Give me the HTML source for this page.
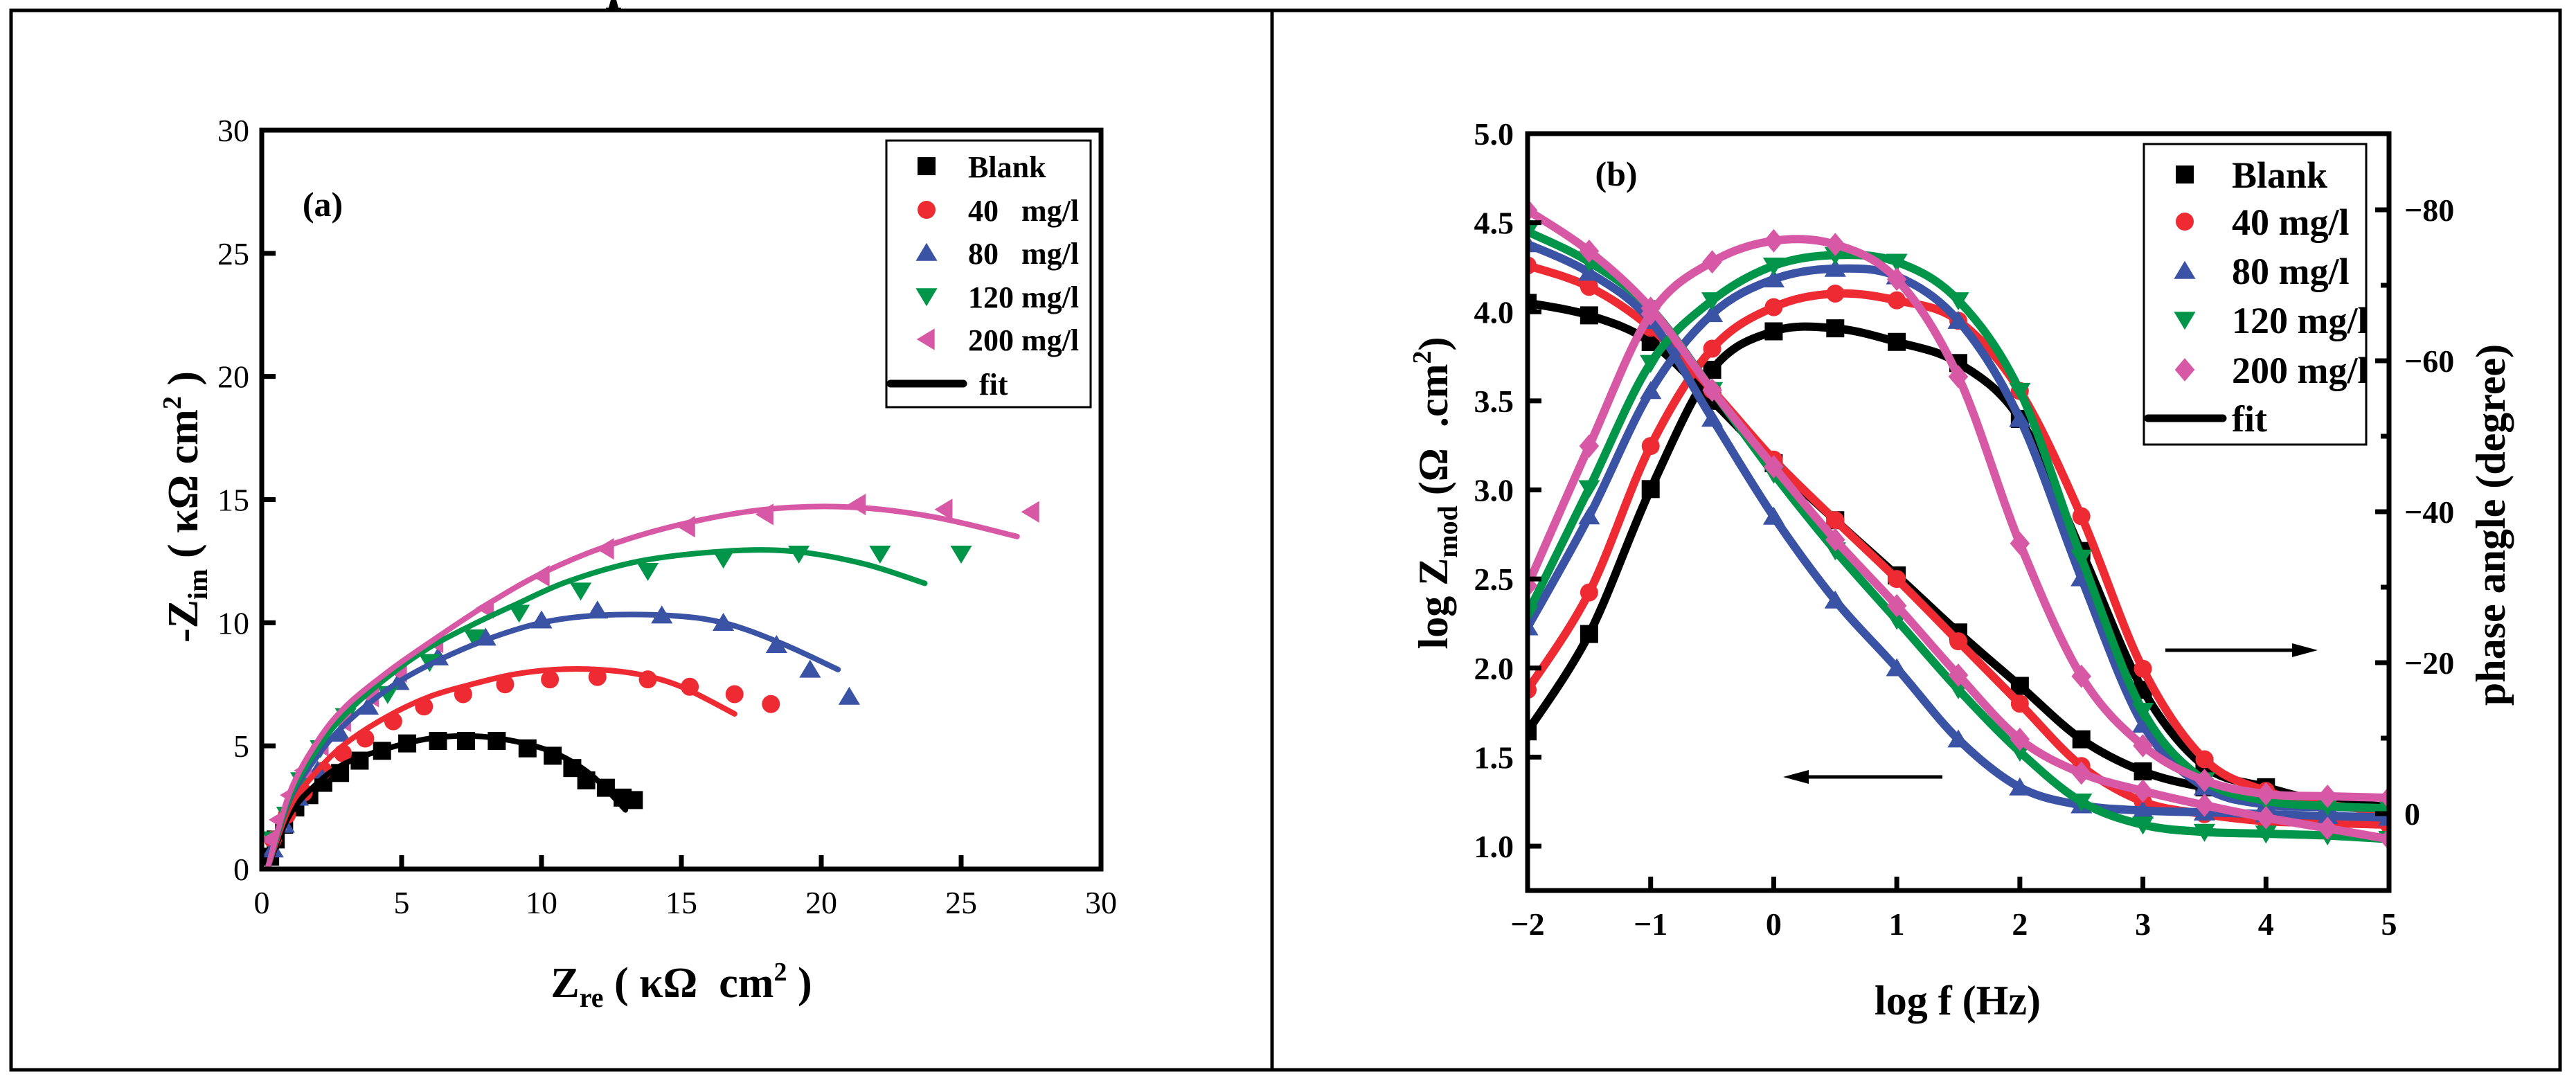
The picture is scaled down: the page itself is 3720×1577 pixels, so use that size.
<!DOCTYPE html>
<html><head><meta charset="utf-8">
<style>
html,body{margin:0;padding:0;background:#fff;}
svg{display:block;}
text{font-family:"Liberation Serif",serif;fill:#000;white-space:pre;}
</style></head>
<body>
<svg id="fig" width="3720" height="1577" viewBox="0 0 3720 1577" xmlns="http://www.w3.org/2000/svg">
<rect x="0" y="0" width="3720" height="1577" fill="#fff"/>
<g stroke="#000" stroke-width="5" fill="none">
<rect x="16" y="15" width="3681" height="1530"/>
<line x1="1837" y1="15" x2="1837" y2="1545"/>
</g>
<path d="M875 11 L879 11 L882 0 L890 0 L893 11 L897 11 L897 13 L875 13 Z" fill="#000"/>
<g id="panelA"></g>
<g id="panelB"></g>
</svg>
<script>
// ===== Panel (a) Nyquist data =====
const nyqSeries = ["Blank","40 mg/l","80 mg/l","120 mg/l","200 mg/l"];
const nyqColors = ["#000000","#ee2a33","#3a53a4","#009548","#d758a4"];
const blankZre = [0.3,0.5,0.8,1.2,1.7,2.2,2.8,3.5,4.3,5.2,6.3,7.3,8.4,9.5,10.4,11.1,11.6,12.3,12.9,13.3];
const blankZim = [0.5,1.2,1.8,2.5,3.0,3.5,3.9,4.4,4.8,5.1,5.2,5.2,5.2,4.9,4.6,4.1,3.6,3.3,2.9,2.8];
const c40Zre = [0.4,0.9,1.5,2.2,2.9,3.7,4.7,5.8,7.2,8.7,10.3,12.0,13.8,15.3,16.9,18.2];
const c40Zim = [1.2,2.2,3.1,4.0,4.7,5.3,6.0,6.6,7.1,7.5,7.7,7.8,7.7,7.4,7.1,6.7];
const c80Zre = [0.4,0.8,1.3,2.0,2.8,3.8,4.9,6.3,8.0,10.0,12.0,14.3,16.5,18.4,19.6,21.0];
const c80Zim = [0.8,1.8,2.9,4.0,5.5,6.6,7.6,8.6,9.4,10.1,10.5,10.3,10.0,9.1,8.1,7.0];
const c120Zre = [0.4,0.9,1.4,2.1,3.0,4.5,6.0,7.6,9.2,11.4,13.8,16.5,19.2,22.1,25.0];
const c120Zim = [1.2,2.2,3.6,4.9,6.2,7.1,8.4,9.4,10.4,11.3,12.1,12.6,12.8,12.8,12.8];
const c200Zre = [0.3,0.6,1.0,1.5,2.1,2.9,3.9,4.9,6.2,8.0,10.0,12.3,15.2,18.0,21.3,24.4,27.5];
const c200Zim = [1.2,2.0,3.0,4.0,5.0,6.0,7.0,8.0,9.2,10.6,11.9,13.0,13.9,14.4,14.8,14.6,14.5];
const fitBlankZre = [0.2,1,2,3,4.5,6,7.5,9,10.5,11.8,13];
const fitBlankZim = [0,2.2,3.5,4.3,4.9,5.3,5.4,5.2,4.7,3.8,2.4];
const fit40Zre = [0.2,1,2,3,4.5,6,7.5,9,10.5,12,13.5,15,16.9];
const fit40Zim = [0,2.5,4.0,5.1,6.2,7.0,7.5,7.9,8.1,8.1,7.9,7.4,6.3];
const fit80Zre = [0.2,1,2,3,4.5,6,8,10,12,14.5,16.5,18.5,20.6];
const fit80Zim = [0,2.8,4.6,5.9,7.3,8.3,9.3,10,10.3,10.3,10,9.2,8.1];
const fit120Zre = [0.2,1,2,3,4.5,6,7.5,9,11,13.5,16.5,19,21.5,23.7];
const fit120Zim = [0,2.9,4.9,6.3,7.8,9.0,9.9,10.7,11.7,12.5,12.9,12.9,12.4,11.6];
const fit200Zre = [0.2,1,2,3,4.5,6,8,10,12.3,15,18,21,24,27];
const fit200Zim = [0,3.1,5.2,6.6,8.0,9.2,10.7,12,13.1,14.0,14.6,14.7,14.3,13.5];
const nyqTicks = [0,5,10,15,20,25,30];

// ===== Panel (b) Bode data =====
const logf = [-2,-1.5,-1,-0.5,0,0.5,1,1.5,2,2.5,3,3.5,4,4.5,5];
const zBlank = [4.05,3.98,3.83,3.5,3.15,2.83,2.52,2.2,1.9,1.6,1.42,1.33,1.28,1.25,1.22];
const z40 = [4.26,4.14,3.91,3.56,3.17,2.83,2.5,2.15,1.8,1.45,1.25,1.18,1.14,1.13,1.12];
const z80 = [4.38,4.22,3.95,3.4,2.85,2.38,2.0,1.6,1.33,1.23,1.2,1.19,1.18,1.17,1.16];
const z120 = [4.45,4.28,4.02,3.56,3.09,2.66,2.27,1.88,1.53,1.25,1.12,1.08,1.07,1.06,1.04];
const z200 = [4.57,4.34,4.02,3.56,3.13,2.72,2.35,1.96,1.6,1.41,1.31,1.23,1.16,1.1,1.04];
const pBlank = [-10.9,-23.8,-43,-58.8,-63.9,-64.3,-62.5,-59.7,-52.3,-34.8,-16.4,-6.3,-3.5,-1.5,-0.7];
const p40 = [-16.4,-29.3,-48.7,-61.6,-67.1,-68.9,-68.0,-65.3,-56,-39.4,-19.2,-7.2,-3,-1.2,-0.3];
const p80 = [-24.7,-39.4,-56,-66.2,-70.8,-72.2,-71.2,-65.3,-52.3,-31.2,-11.8,-3.5,-1.2,-0.9,-0.7];
const p120 = [-26.5,-43.1,-59.7,-68,-72.6,-74,-73.1,-68,-56,-33.9,-13.6,-4.4,-1.7,-1.0,-0.7];
const p200 = [-30.2,-48.7,-66.2,-73.1,-75.9,-75.4,-70.8,-57.9,-35.8,-18.2,-9.0,-4.4,-2.6,-2.3,-2.1];
const bodeXTicks = [-2,-1,0,1,2,3,4,5];
const bodeYTicks = [1.0,1.5,2.0,2.5,3.0,3.5,4.0,4.5,5.0];
const phaseTicks = [-80,-60,-40,-20,0];

const NS="http://www.w3.org/2000/svg";
function mk(tag, attrs, parent){const e=document.createElementNS(NS,tag);for(const k in attrs)e.setAttribute(k,attrs[k]);parent.appendChild(e);return e;}
function smooth(pts){
  if(pts.length<2)return "";
  let d="M"+pts[0][0].toFixed(1)+" "+pts[0][1].toFixed(1);
  for(let i=0;i<pts.length-1;i++){
    const p0=pts[Math.max(0,i-1)],p1=pts[i],p2=pts[i+1],p3=pts[Math.min(pts.length-1,i+2)];
    const c1=[p1[0]+(p2[0]-p0[0])/6,p1[1]+(p2[1]-p0[1])/6];
    const c2=[p2[0]-(p3[0]-p1[0])/6,p2[1]-(p3[1]-p1[1])/6];
    d+=" C"+c1[0].toFixed(1)+" "+c1[1].toFixed(1)+" "+c2[0].toFixed(1)+" "+c2[1].toFixed(1)+" "+p2[0].toFixed(1)+" "+p2[1].toFixed(1);
  }
  return d;
}
function marker(shape,cx,cy,s,color,parent){
  let e;
  if(shape==="square"){e=mk("rect",{x:cx-s/2,y:cy-s/2,width:s,height:s,fill:color},parent);}
  else if(shape==="circle"){e=mk("circle",{cx:cx,cy:cy,r:s/2,fill:color},parent);}
  else if(shape==="up"){e=mk("polygon",{points:`${cx},${cy-s*0.55} ${cx-s*0.6},${cy+s*0.45} ${cx+s*0.6},${cy+s*0.45}`,fill:color},parent);}
  else if(shape==="down"){e=mk("polygon",{points:`${cx},${cy+s*0.55} ${cx-s*0.6},${cy-s*0.45} ${cx+s*0.6},${cy-s*0.45}`,fill:color},parent);}
  else if(shape==="left"){e=mk("polygon",{points:`${cx-s*0.55},${cy} ${cx+s*0.45},${cy-s*0.6} ${cx+s*0.45},${cy+s*0.6}`,fill:color},parent);}
  else {e=mk("polygon",{points:`${cx},${cy-s*0.65} ${cx+s*0.55},${cy} ${cx},${cy+s*0.65} ${cx-s*0.55},${cy}`,fill:color},parent);}
  return e;
}

// ===== Panel (a) =====
(function(){
  const g=document.getElementById("panelA");
  const L=378,R=1590,T=188,B=1255;
  const xs=v=>L+(v/30)*(R-L), ys=v=>B-(v/30)*(B-T);
  const shapes=["square","circle","up","down","left"];
  const dataX=[blankZre,c40Zre,c80Zre,c120Zre,c200Zre], dataY=[blankZim,c40Zim,c80Zim,c120Zim,c200Zim];
  const fitX=[fitBlankZre,fit40Zre,fit80Zre,fit120Zre,fit200Zre], fitY=[fitBlankZim,fit40Zim,fit80Zim,fit120Zim,fit200Zim];
  const clip=mk("clipPath",{id:"clipA"},g); mk("rect",{x:L,y:T,width:R-L,height:B-T},clip);
  const plot=mk("g",{"clip-path":"url(#clipA)"},g);
  
  
  for(let s=0;s<5;s++){
    const sg=mk("g",{},plot);
    
    
    for(let i=0;i<dataX[s].length;i++){
      const m=marker(shapes[s],xs(dataX[s][i]),ys(dataY[s][i]),26,nyqColors[s],sg);
      
      
    }
  }
  for(let s=0;s<5;s++){
    const pts=fitX[s].map((v,i)=>[xs(v),ys(fitY[s][i])]);
    const p=mk("path",{d:smooth(pts),fill:"none",stroke:nyqColors[s],"stroke-width":8,"stroke-linecap":"round"},plot);
    
    
  }
  const ax=mk("g",{stroke:"#000","stroke-width":7,fill:"none"},g);
  
  
  mk("rect",{x:L,y:T,width:R-L,height:B-T},ax);
  nyqTicks.forEach(t=>{
    mk("line",{x1:xs(t),y1:B,x2:xs(t),y2:B-20},ax);
    mk("line",{x1:L,y1:ys(t),x2:L+20,y2:ys(t)},ax);
    const tx=mk("text",{x:xs(t),y:B+64,"font-size":46,"text-anchor":"middle"},g); tx.textContent=t;
    
    
    const ty=mk("text",{x:L-18,y:ys(t)+16,"font-size":46,"text-anchor":"end"},g); ty.textContent=t;
    
    
  });
  const lg=mk("g",{},g);
  
  
  mk("rect",{x:1280,y:203,width:295,height:385,fill:"#fff",stroke:"#000","stroke-width":3},lg);
  const rows=[240,303,365,428,490];
  const labs=["Blank","40   mg/l","80   mg/l","120 mg/l","200 mg/l"];
  for(let s=0;s<5;s++){
    marker(shapes[s],1338,rows[s],26,nyqColors[s],lg);
    const t=mk("text",{x:1398,y:rows[s]+16,"font-size":44,"font-weight":"bold"},lg); t.textContent=labs[s];
    
    
  }
  mk("line",{x1:1286,y1:554,x2:1391,y2:554,stroke:"#000","stroke-width":11,"stroke-linecap":"round"},lg);
  const ft=mk("text",{x:1414,y:570,"font-size":44,"font-weight":"bold"},lg); ft.textContent="fit";
  const a=mk("text",{x:466,y:312,"font-size":50,"font-weight":"bold","text-anchor":"middle"},g); a.textContent="(a)";
  
  
  const xl=mk("text",{x:984,y:1440,"font-size":62,"font-weight":"bold","text-anchor":"middle"},g);
  xl.innerHTML='Z<tspan font-size="40" dy="14">re</tspan><tspan dy="-14"> ( κΩ  cm</tspan><tspan font-size="38" dy="-24">2</tspan><tspan dy="24"> )</tspan>';
  
  
  const yl=mk("text",{x:0,y:0,"font-size":62,"font-weight":"bold","text-anchor":"middle","transform":"translate(285,732) rotate(-90)"},g);
  yl.innerHTML='-Z<tspan font-size="40" dy="14">im</tspan><tspan dy="-14"> ( κΩ cm</tspan><tspan font-size="38" dy="-24">2</tspan><tspan dy="24"> )</tspan>';
  
  
})();

// ===== Panel (b) =====
(function(){
  const g=document.getElementById("panelB");
  const L=2206,R=3450,T=193,B=1286;
  const xs=v=>L+(v+2)/7*(R-L);
  const yz=v=>1222-(v-1)*257.25;
  const yp=v=>1175+v*10.9;
  const cols=nyqColors;
  const shapes=["square","circle","up","down","diamond"];
  const Z=[zBlank,z40,z80,z120,z200], P=[pBlank,p40,p80,p120,p200];
  const clip=mk("clipPath",{id:"clipB"},g); mk("rect",{x:L,y:T,width:R-L,height:B-T},clip);
  const plot=mk("g",{"clip-path":"url(#clipB)"},g);
  
  
  for(let s=0;s<5;s++){
    const ptsZ=logf.map((v,i)=>[xs(v),yz(Z[s][i])]);
    const ptsP=logf.map((v,i)=>[xs(v),yp(P[s][i])]);
    const lz=mk("path",{d:smooth(ptsZ),fill:"none",stroke:cols[s],"stroke-width":12},plot);
    
    
    const lp=mk("path",{d:smooth(ptsP),fill:"none",stroke:cols[s],"stroke-width":12},plot);
    
    
    for(let i=0;i<logf.length;i++){
      const m1=marker(shapes[s],xs(logf[i]),yz(Z[s][i]),26,cols[s],plot);
      
      
      const m2=marker(shapes[s],xs(logf[i]),yp(P[s][i]),26,cols[s],plot);
      
      
    }
  }
  const ax=mk("g",{stroke:"#000","stroke-width":7,fill:"none"},g);
  
  
  mk("rect",{x:L,y:T,width:R-L,height:B-T},ax);
  bodeXTicks.forEach(t=>{
    mk("line",{x1:xs(t),y1:B,x2:xs(t),y2:B-20},ax);
    const tx=mk("text",{x:xs(t),y:B+64,"font-size":46,"font-weight":"bold","text-anchor":"middle"},g);
    tx.textContent=(t<0?"\u2212":"")+Math.abs(t);
    
    
  });
  bodeYTicks.forEach(t=>{
    mk("line",{x1:L,y1:yz(t),x2:L+20,y2:yz(t)},ax);
    const ty=mk("text",{x:L-20,y:yz(t)+16,"font-size":46,"font-weight":"bold","text-anchor":"end"},g);
    ty.textContent=t.toFixed(1);
    
    
  });
  [-90,-70,-50,-30,-10,10].forEach(t=>{ if(yp(t)>T+5&&yp(t)<B-5) mk("line",{x1:R,y1:yp(t),x2:R-12,y2:yp(t)},ax); });
  phaseTicks.forEach(t=>{
    mk("line",{x1:R,y1:yp(t),x2:R-20,y2:yp(t)},ax);
    const ty=mk("text",{x:R+22,y:yp(t)+16,"font-size":46,"font-weight":"bold"},g);
    ty.textContent=(t<0?"\u2212":"")+Math.abs(t);
    
    
  });
  const ar=mk("g",{},g);
  
  
  mk("line",{x1:2805,y1:1122,x2:2600,y2:1122,stroke:"#000","stroke-width":5},ar);
  mk("polygon",{points:"2575,1122 2612,1112 2612,1132",fill:"#000"},ar);
  mk("line",{x1:3127,y1:939,x2:3320,y2:939,stroke:"#000","stroke-width":5},ar);
  mk("polygon",{points:"3347,939 3310,929 3310,949",fill:"#000"},ar);
  const lg=mk("g",{},g);
  
  
  mk("rect",{x:3096,y:208,width:321,height:434,fill:"#fff",stroke:"#000","stroke-width":3},lg);
  const rows=[252,320,391,462,534];
  const labs=["Blank","40 mg/l","80 mg/l","120 mg/l","200 mg/l"];
  for(let s=0;s<5;s++){
    marker(shapes[s],3155,rows[s],26,cols[s],lg);
    const t=mk("text",{x:3223,y:rows[s]+19,"font-size":54,"font-weight":"bold"},lg); t.textContent=labs[s];
    
    
  }
  mk("line",{x1:3102,y1:604,x2:3210,y2:604,stroke:"#000","stroke-width":11,"stroke-linecap":"round"},lg);
  const ft=mk("text",{x:3223,y:623,"font-size":54,"font-weight":"bold"},lg); ft.textContent="fit";
  const b=mk("text",{x:2334,y:268,"font-size":50,"font-weight":"bold","text-anchor":"middle"},g); b.textContent="(b)";
  
  
  const xl=mk("text",{x:2827,y:1465,"font-size":60,"font-weight":"bold","text-anchor":"middle"},g); xl.textContent="log f (Hz)";
  
  
  const yl=mk("text",{x:0,y:0,"font-size":60,"font-weight":"bold","text-anchor":"middle","transform":"translate(2090,712) rotate(-90)"},g);
  yl.innerHTML='log Z<tspan font-size="40" dy="14">mod</tspan><tspan dy="-14"> (Ω  .cm</tspan><tspan font-size="38" dy="-24">2</tspan><tspan dy="24">)</tspan>';
  
  
  const yr=mk("text",{x:0,y:0,"font-size":60,"font-weight":"bold","text-anchor":"middle","transform":"translate(3617,758) rotate(-90)"},g); yr.textContent="phase angle (degree)";
  
  
})();
</script>
</body></html>
